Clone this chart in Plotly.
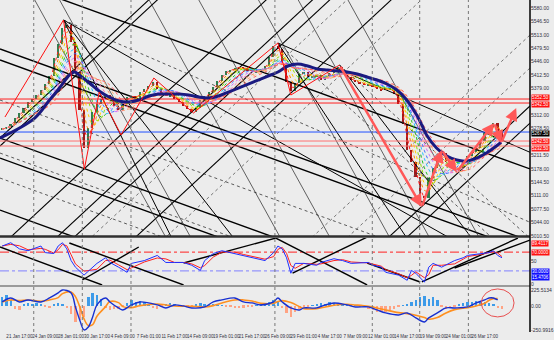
import plotly.graph_objects as go
import pandas as pd

# ---------------- data ----------------
close = [5277.5, 5282.5, 5290, 5305, 5317.5, 5330, 5345, 5352.5, 5362.5, 5375,
         5390, 5410, 5455, 5490, 5530, 5537.5, 5495, 5420, 5325, 5230,
         5280, 5320, 5340, 5352.5, 5362.5, 5352.5, 5335, 5325, 5340, 5357.5,
         5360, 5355, 5370, 5377.5, 5385, 5395, 5377.5, 5365, 5360, 5362.5,
         5352.5, 5345, 5335, 5327.5, 5320, 5330, 5350, 5360, 5370, 5382.5,
         5397.5, 5412.5, 5422.5, 5425, 5430, 5432.5, 5427.5, 5425, 5420, 5422.5,
         5427.5, 5435, 5457.5, 5485, 5477.5, 5442.5, 5395, 5372.5, 5392.5, 5415,
         5420, 5407.5, 5410, 5412.5, 5400, 5407.5, 5417.5, 5425, 5432.5, 5420,
         5407.5, 5400, 5395, 5392.5, 5387.5, 5387.5, 5382.5, 5377.5, 5375, 5380,
         5375, 5365, 5340, 5290, 5225, 5195, 5157.5, 5110, 5105, 5155,
         5180, 5210, 5217.5, 5195, 5182.5, 5175, 5180, 5195, 5210, 5220,
         5230, 5247.5, 5267.5, 5282.5, 5292.5, 5272.5, 5250]

navy_bar = [-0.5, 7.56, 11.0, 13.3, 15.6, 16.8, 17.9, 20.2, 22.5, 24.8, 27.1, 29.4, 31.7,
            34.1, 36.4, 38.7, 41.0, 43.3, 45.6, 47.9, 50.2, 52.5, 54.8, 57.1, 59.4, 61.7,
            64.0, 66.3, 68.6, 70.9, 73.2, 75.5, 77.8, 80.1, 82.4, 84.7, 87.0, 89.3, 91.6,
            93.9, 96.2, 97.4, 98.5, 100.8, 103.2, 105.5, 107.8, 110.1, 112.4, 114.7, 115.8]
navy_price = [5255, 5305, 5350, 5380, 5412.5, 5420, 5412.5, 5392.5, 5372.5, 5357.5, 5347.5,
              5345, 5350, 5360, 5365, 5365, 5365, 5362.5, 5357.5, 5355, 5360, 5370, 5380,
              5390, 5400, 5410, 5420, 5435, 5440, 5435, 5427.5, 5425, 5422.5, 5420, 5415,
              5407.5, 5400, 5390, 5375, 5350, 5312.5, 5287.5, 5262.5, 5230, 5210, 5200,
              5197.5, 5205, 5217.5, 5235, 5245]

ribbon_windows = [2, 3, 4, 5, 6, 7, 8, 9, 10, 11, 12, 13]
ribbon_colors = ['#ff2020', '#ff8000', '#ffd000', '#90e000', '#20c020', '#20c0ff',
                 '#4070ff', '#d070ff', '#ff70b0', '#ff9060', '#ffb070', '#ff6060']

zz_thin_bar = [0.65, 14.24, 19.08, 22.53, 27.6, 35.2, 44.4, 64.0, 67.0, 78.3]
zz_thin_price = [5307.5, 5550, 5177.5, 5370, 5262.5, 5405, 5317.5, 5492.5, 5362.5, 5437.5]
zz_thick_bar = [78.3, 97.4, 102.0, 105.5, 114.2, 115.8, 119.3]
zz_thick_price = [5437.5, 5082.5, 5225, 5170, 5292.5, 5242.5, 5330]

# Gann grid (price at bar 0) and slopes (price per bar)
up_slope = 10.0
up_solid = [5260, 5240, 4987.5, 4880, 4840, 4697.5, 4110, 4067.5]
up_dotted = [4800, 4627.5, 4287.5, 4205]
dn_slope = -3.9
dn_solid = [5253, 5203, 5073, 5448, 5475.5, 5655.5]
dn_dotted = [5215.5, 5153, 5348]
steep_slope = -19.5
steep_lines = [5747.5, 5860, 6265, 6490, 6760, 6940, 7165]
fan_anchor_bar = [14.24, 14.24, 14.24, 14.24, 64.0, 64.0, 64.0, 78.3, 78.3]
fan_anchor_price = [5550, 5550, 5550, 5550, 5492.5, 5492.5, 5492.5, 5437.5, 5437.5]
fan_slope = [-4.67, -6.08, -13.8, -21.7, -4.67, -9.8, -16.3, -9.8, -14.1]
fan_dotted = [True, False, False, False, False, True, False, True, False]

hlines_price = [5352.5, 5342.5, 5270, 5247.5, 5235]
hlines_color = ['#ff2020', '#ff2020', '#2050ff', '#ff7070', '#ff7070']

separators_bar = [7.33, 18.6, 29.9, 63.3, 85.9, 96.9, 108.2]

price_ticks = [5580 - 33.5 * k for k in range(18) if k not in (7, 10)]

x_tick_bars = [4 + 6 * k for k in range(19)]
x_tick_text = ["21 Jan 17:00", "24 Jan 09:00", "28 Jan 01:00", "30 Jan 17:00", "4 Feb 09:00",
               "7 Feb 01:00", "11 Feb 17:00", "14 Feb 09:00", "19 Feb 01:00", "21 Feb 17:00",
               "26 Feb 09:00", "29 Feb 01:00", "4 Mar 17:00", "7 Mar 09:00", "12 Mar 01:00",
               "14 Mar 17:00", "19 Mar 09:00", "24 Mar 01:00", "26 Mar 17:00"]

rsi_bar = [0, 2, 4, 6, 9, 10, 12, 13, 14, 15, 16, 17, 19, 22, 24, 25, 27, 29, 30, 33, 36, 38,
           40, 42, 44, 46, 47, 49, 51, 54, 56, 58, 61, 63, 64, 65, 66, 67, 68, 70, 73, 74, 77,
           79, 81, 85, 86, 88, 89, 92, 94, 95, 96, 98, 99, 100, 102, 105, 107, 108, 111, 113,
           114, 115, 116]
rsi_val = [83, 90, 77, 73, 83, 69, 67, 83, 90, 77, 52, 38, 21, 46, 58, 48, 38, 27, 46, 52, 63,
           48, 48, 48, 42, 31, 52, 67, 73, 67, 63, 58, 52, 69, 83, 77, 58, 25, 46, 46, 42, 48,
           56, 52, 46, 48, 42, 38, 27, 21, 10, 31, 25, 6, 38, 46, 38, 52, 58, 63, 67, 69, 73,
           63, 58]

p1_line_x0 = [-0.5, 15.6, 18.6, 42.1, 63.5, 97.4, 105.0, 67.4, 84.7]
p1_line_v0 = [80.9, 89.4, 10.6, 46.8, 100, 6.4, 36.2, 25.5, 46.8]
p1_line_x1 = [23.2, 42.1, 31.7, 63.5, 84.7, 119.7, 122.5, 84.7, 97.0]
p1_line_v1 = [0, 0, 80.9, 100, 0, 100, 95.7, 102, 6.4]

macd_bar = [0, 2, 4, 6, 9, 11, 13, 14, 16, 17, 18, 19, 20, 21, 22, 24, 25, 27, 28, 30, 32, 36,
            38, 40, 42, 44, 47, 49, 51, 54, 56, 58, 60, 63, 64, 65, 67, 69, 70, 73, 75, 77, 80,
            82, 85, 87, 89, 92, 94, 96, 98, 99, 101, 103, 105, 108, 110, 112, 113, 114, 115]
macd_val = [56, 112, 56, 84, 56, 112, 182, 224, 182, -14, -196, -336, -294, -154, 14, 112, 56,
            -28, -56, 14, 56, 14, -28, 14, 0, -28, -14, 56, 84, 112, 56, 42, 14, 56, 112, 56,
            -28, -56, -28, -28, 14, 42, 14, -14, -14, -56, -98, -126, -98, -168, -224, -168,
            -98, -28, -28, -14, 42, 84, 112, 112, 84]

hist = [120, 150, 90, -40, -56, 30, 45, 20, 35, 15, -20, -30, 20, 40, 30, -30,
        -120, -224, -200, -150, 120, 182, 160, 100, -30, -56, -50, -40, -20,
        40, 84, 60, 70, 50, 30, -30, -40, -20, 30, 40, 20, 10, -10, -20, -15,
        30, 40, 20, 10, 15, 10, 5, -5, -20, -30, -35, -25, -15, -10, 10, 20, 15,
        60, 90, 70, -30, -100, -160, -80, -40, -20, -10, 10, 20, 40, 30, 50, 40,
        30, 20, 10, 15, 10, -5, -10, -40, -60, -80, -70, -90, -60, -40, -20, 10,
        30, 50, 80, 120, 140, 100, 130, 90, -20, -40, -30, -10, 20, 40, 60, 50,
        70, 60, 50, 40, 30, -30, -50]

# ---------------- figure ----------------
BG = '#ececec'
FONT = 'Liberation Sans'
XMIN, XMAX = -0.5, 122.5
bars = list(range(len(close)))
opens = [close[0]] + close[:-1]
body_lo = [min(o, c) for o, c in zip(opens, close)]
body_h = [max(abs(c - o), 2.5) for o, c in zip(opens, close)]
body_col = ['#2f7f4f' if c >= o else '#a01818' for o, c in zip(opens, close)]

fig = go.Figure()


def add_rays(p0s, slope, color, width, dash, xa='x2', ya='y'):
    xs, ys = [], []
    for p0 in p0s:
        xs += [XMIN, XMAX, None]
        ys += [p0 + slope * XMIN, p0 + slope * XMAX, None]
    fig.add_trace(go.Scatter(x=xs, y=ys, mode='lines', xaxis=xa, yaxis=ya,
                             line=dict(color=color, width=width, dash=dash),
                             hoverinfo='skip', showlegend=False))


# Gann grid lines
add_rays(up_solid, up_slope, '#000000', 1.1, 'solid')
add_rays(up_dotted, up_slope, '#555555', 0.8, 'dot')
add_rays(dn_solid, dn_slope, '#000000', 1.4, 'solid')
add_rays(dn_dotted, dn_slope, '#333333', 0.8, 'dot')
add_rays(steep_lines, steep_slope, '#222222', 0.7, 'solid')
for b0, p0, s, d in zip(fan_anchor_bar, fan_anchor_price, fan_slope, fan_dotted):
    fig.add_trace(go.Scatter(x=[b0, XMAX], y=[p0, p0 + s * (XMAX - b0)], mode='lines',
                             xaxis='x2', yaxis='y',
                             line=dict(color='#333333' if d else '#000000',
                                       width=0.8 if d else 1.0, dash='dot' if d else 'solid'),
                             hoverinfo='skip', showlegend=False))

# horizontal levels
for p, c in zip(hlines_price, hlines_color):
    fig.add_trace(go.Scatter(x=[XMIN, XMAX], y=[p, p], mode='lines', xaxis='x2', yaxis='y',
                             line=dict(color=c, width=1), hoverinfo='skip', showlegend=False))

# MA ribbon
cs = pd.Series(close)
for w, col in zip(ribbon_windows, ribbon_colors):
    ma = cs.rolling(w, min_periods=1).mean()
    fig.add_trace(go.Scatter(x=bars, y=ma, mode='lines', xaxis='x2', yaxis='y',
                             line=dict(color=col, width=1, dash='dot', shape='spline'),
                             hoverinfo='skip', showlegend=False))

# candles (thin bodies)
fig.add_trace(go.Bar(x=bars, y=body_h, base=body_lo, xaxis='x2', yaxis='y', width=0.38,
                     marker=dict(color=body_col, line=dict(width=0)),
                     hoverinfo='skip', showlegend=False))

# navy MA
fig.add_trace(go.Scatter(x=navy_bar, y=navy_price, mode='lines', xaxis='x2', yaxis='y',
                         line=dict(color='#1a1a80', width=3, shape='spline'),
                         hoverinfo='skip', showlegend=False))

# zigzag
fig.add_trace(go.Scatter(x=zz_thin_bar, y=zz_thin_price, mode='lines', xaxis='x2', yaxis='y',
                         line=dict(color='#ff1010', width=1), hoverinfo='skip', showlegend=False))
for i in range(len(zz_thick_bar) - 1):
    fig.add_annotation(x=zz_thick_bar[i + 1], y=zz_thick_price[i + 1],
                       ax=zz_thick_bar[i], ay=zz_thick_price[i],
                       xref='x2', yref='y', axref='x2', ayref='y',
                       showarrow=True, arrowhead=2, arrowsize=1, arrowwidth=2.5,
                       arrowcolor='#ff5858', text='')

# ---- pane 1 ----
for lv, col in [(70, '#ff2020'), (30, '#8080ff')]:
    fig.add_trace(go.Scatter(x=[XMIN, XMAX], y=[lv, lv], mode='lines', xaxis='x3', yaxis='y2',
                             line=dict(color=col, width=1, dash='dashdot'),
                             hoverinfo='skip', showlegend=False))
xs, ys = [], []
for a, b, c, d in zip(p1_line_x0, p1_line_v0, p1_line_x1, p1_line_v1):
    xs += [a, c, None]
    ys += [b, d, None]
fig.add_trace(go.Scatter(x=xs, y=ys, mode='lines', xaxis='x3', yaxis='y2',
                         line=dict(color='#000000', width=1.4), hoverinfo='skip', showlegend=False))
rsi_sig = pd.Series(rsi_val).rolling(2, min_periods=1).mean()
fig.add_trace(go.Scatter(x=rsi_bar, y=rsi_sig, mode='lines', xaxis='x3', yaxis='y2',
                         line=dict(color='#ff2020', width=1), hoverinfo='skip', showlegend=False))
fig.add_trace(go.Scatter(x=rsi_bar, y=rsi_val, mode='lines', xaxis='x3', yaxis='y2',
                         line=dict(color='#2030ff', width=1), hoverinfo='skip', showlegend=False))

# ---- pane 2 (MACD) ----
fig.add_trace(go.Bar(x=bars, y=hist, xaxis='x', yaxis='y3', width=0.55,
                     marker=dict(color=['#3d9be9' if v >= 0 else '#ffa383' for v in hist],
                                 line=dict(width=0)),
                     hoverinfo='skip', showlegend=False))
macd_sig = pd.Series(macd_val).rolling(3, min_periods=1).mean()
fig.add_trace(go.Scatter(x=macd_bar, y=macd_sig, mode='lines', xaxis='x', yaxis='y3',
                         line=dict(color='#ff9020', width=1.6, shape='spline'),
                         hoverinfo='skip', showlegend=False))
fig.add_trace(go.Scatter(x=macd_bar, y=macd_val, mode='lines', xaxis='x', yaxis='y3',
                         line=dict(color='#1830d0', width=1.4, shape='spline'),
                         hoverinfo='skip', showlegend=False))

# ---------------- shapes ----------------
shapes = []
for b in separators_bar:
    shapes.append(dict(type='line', xref='x', yref='paper', x0=b, x1=b, y0=0, y1=1,
                       line=dict(color='#777777', width=1, dash='dot')))
shapes.append(dict(type='line', xref='paper', yref='paper', x0=0, x1=1, y0=0.2877, y1=0.2877,
                   line=dict(color='#303030', width=2.5)))
shapes.append(dict(type='line', xref='paper', yref='paper', x0=0, x1=1, y0=0.1386, y1=0.1386,
                   line=dict(color='#9a9a9a', width=2)))
shapes.append(dict(type='line', xref='paper', yref='paper', x0=1, x1=1, y0=0, y1=1,
                   line=dict(color='#000000', width=1.5)))
shapes.append(dict(type='circle', xref='x', yref='y3', x0=111.2, x1=118.8, y0=-154, y1=238,
                   line=dict(color='#e85050', width=1)))


# ---------------- boxed labels ----------------
def box(y, yref, text, bg, shift=0, fg='white'):
    fig.add_annotation(x=1, xref='paper', xanchor='left', xshift=1, y=y, yref=yref,
                       yshift=shift, text=text, showarrow=False, bgcolor=bg, borderpad=0,
                       font=dict(size=4.5, color=fg, family=FONT))


box(5352.5, 'y', '5352.50', '#ff1010', 1.5)
box(5342.5, 'y', '5342.50', '#ff1010', -1.5)
box(5267.5, 'y', '5267.50', '#000000')
box(5242.5, 'y', '5242.50', '#ff2020', 1.5)
box(5232.5, 'y', '5232.50', '#ff2020', -1.5)
box(89.4, 'y2', '89.4117', '#ff1010')
box(70.2, 'y2', '70.0000', '#ff1010')
box(29.8, 'y2', '30.0000', '#1010ff')
box(14.9, 'y2', '15.4706', '#1010ff')

tickfont = dict(size=5, color='#303040', family=FONT)
fig.update_layout(
    width=554, height=340,
    margin=dict(l=0, r=20, t=0, b=8),
    paper_bgcolor=BG, plot_bgcolor=BG,
    showlegend=False, bargap=0, barmode='overlay',
    shapes=shapes,
    xaxis=dict(domain=[0, 1], range=[XMIN, XMAX], anchor='y3', tickvals=x_tick_bars,
               ticktext=x_tick_text, tickangle=0,
               tickfont=dict(size=4.5, color='#303040', family=FONT),
               showgrid=False, zeroline=False, ticks='', showline=False),
    xaxis2=dict(matches='x', anchor='y', showticklabels=False, showgrid=False, zeroline=False,
                ticks=''),
    xaxis3=dict(matches='x', anchor='y2', showticklabels=False, showgrid=False, zeroline=False,
                ticks=''),
    yaxis=dict(domain=[0.289, 1], range=[5010, 5600], side='right', tickvals=price_ticks,
               ticktext=['%.2f' % p for p in price_ticks], tickfont=tickfont,
               showgrid=False, zeroline=False, ticks=''),
    yaxis2=dict(domain=[0.1416, 0.283], range=[0, 100], side='right', tickvals=[50, 2],
                ticktext=['50', '0'], tickfont=tickfont, showgrid=False, zeroline=False, ticks=''),
    yaxis3=dict(domain=[0, 0.1355], range=[-365, 265], side='right', tickvals=[225.5, 0, -345],
                ticktext=['225.5134', '0.00', '-250.9916'], tickfont=tickfont,
                showgrid=False, zeroline=False, ticks=''),
)

fig.write_html('out.html')
